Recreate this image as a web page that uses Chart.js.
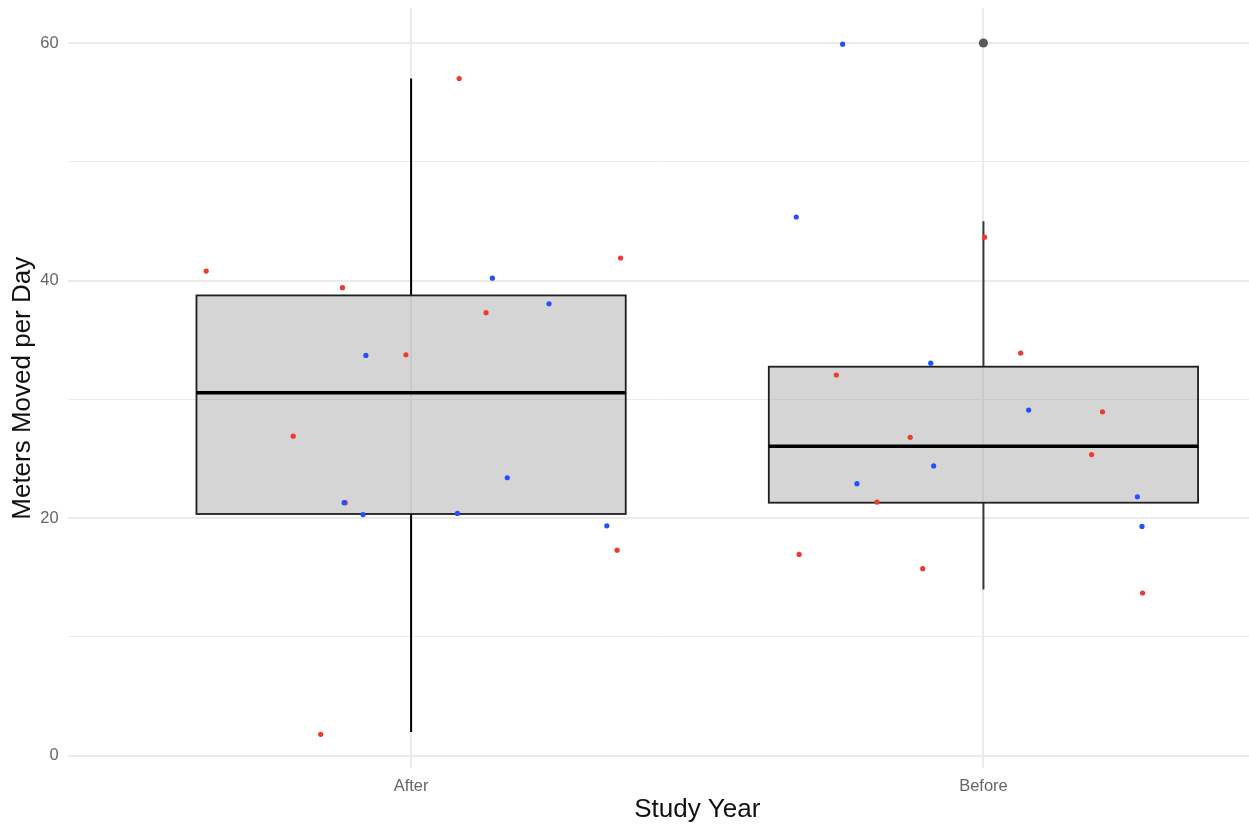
<!DOCTYPE html>
<html>
<head>
<meta charset="utf-8">
<script src="https://cdn.jsdelivr.net/npm/chart.js@4"></script>
<style>
  html, body { margin: 0; padding: 0; background: #ffffff; }
  #wrap { width: 1249px; height: 828px; }
</style>
</head>
<body>
<div id="wrap"><canvas id="c" width="1249" height="828"></canvas></div>
<script>
// ---- data ----
const categories = ['After', 'Before'];
const yTicks = [0, 10, 20, 30, 40, 50, 60];
const xTitle = 'Study Year';
const yTitle = 'Meters Moved per Day';

// box-plot statistics per category
const boxMin    = [2.0, 14.0];
const boxQ1     = [20.35, 21.3];
const boxMedian = [30.55, 26.05];
const boxQ3     = [38.75, 32.75];
const boxMax    = [57.0, 45.0];

// outliers (category index, value)
const outlierGroup = [1];
const outlierValue = [60];

// jittered points: category index, horizontal jitter, value
const redGroup  = [0, 0, 0, 0, 0, 0, 0, 0, 0, 0,
                   1, 1, 1, 1, 1, 1, 1, 1, 1, 1];
const redJitter = [-0.358, -0.120, -0.206, -0.009, 0.084, 0.131, 0.366, 0.360, -0.158, -0.115,
                   0.002, 0.065, -0.257, 0.208, -0.128, 0.189, -0.186, -0.322, -0.106, 0.278];
const redValue  = [40.8, 39.4, 26.9, 33.75, 57.0, 37.3, 41.9, 17.3, 1.8, 21.3,
                   43.65, 33.9, 32.05, 28.95, 26.8, 25.35, 21.35, 16.95, 15.75, 13.7];

const blueGroup  = [0, 0, 0, 0, 0, 0, 0, 0,
                    1, 1, 1, 1, 1, 1, 1, 1];
const blueJitter = [-0.079, -0.117, -0.084, 0.142, 0.241, 0.168, 0.081, 0.342,
                    -0.327, -0.246, -0.092, 0.079, -0.087, -0.221, 0.269, 0.277];
const blueValue  = [33.7, 21.3, 20.3, 40.2, 38.05, 23.4, 20.4, 19.35,
                    45.35, 59.9, 33.05, 29.1, 24.4, 22.9, 21.8, 19.3];

// ---- build ----
const toPoints = (g, j, v) => v.map((val, i) => ({ x: g[i] + 1 + (j ? j[i] : 0), y: val }));

const BOX_WIDTH = 0.75;
const whiskerColors = ['#000000', '#3a3a3a'];
const FONT = "'Liberation Sans', Arial, Helvetica, sans-serif";

const boxPlugin = {
  id: 'boxes',
  beforeDatasetsDraw(chart) {
    const { ctx, scales: { x, y } } = chart;
    ctx.save();
    categories.forEach((c, i) => {
      const cx = x.getPixelForValue(i + 1);
      const xl = x.getPixelForValue(i + 1 - BOX_WIDTH / 2);
      const xr = x.getPixelForValue(i + 1 + BOX_WIDTH / 2);
      const yMin = y.getPixelForValue(boxMin[i]);
      const yQ1 = y.getPixelForValue(boxQ1[i]);
      const yMed = y.getPixelForValue(boxMedian[i]);
      const yQ3 = y.getPixelForValue(boxQ3[i]);
      const yMax = y.getPixelForValue(boxMax[i]);
      // whiskers
      ctx.strokeStyle = whiskerColors[i];
      ctx.lineWidth = 2;
      ctx.beginPath();
      ctx.moveTo(cx, yMax); ctx.lineTo(cx, yQ3);
      ctx.moveTo(cx, yQ1); ctx.lineTo(cx, yMin);
      ctx.stroke();
      // box
      ctx.fillStyle = 'rgba(150,150,150,0.4)';
      ctx.fillRect(xl, yQ3, xr - xl, yQ1 - yQ3);
      ctx.strokeStyle = '#1e1e1e';
      ctx.lineWidth = 1.8;
      ctx.strokeRect(xl, yQ3, xr - xl, yQ1 - yQ3);
      // median
      ctx.strokeStyle = '#000000';
      ctx.lineWidth = 3.6;
      ctx.beginPath();
      ctx.moveTo(xl, yMed); ctx.lineTo(xr, yMed);
      ctx.stroke();
    });
    ctx.restore();
  },
  afterDraw(chart) {
    // x-axis title, centred on the (wider, cropped) panel: midway between the categories
    const { ctx, scales: { x } } = chart;
    ctx.save();
    ctx.font = '26px ' + FONT;
    ctx.fillStyle = '#111111';
    ctx.textAlign = 'center';
    ctx.textBaseline = 'middle';
    ctx.fillText(xTitle, x.getPixelForValue((1 + categories.length) / 2), chart.height - 18.6);
    ctx.restore();
  }
};

new Chart(document.getElementById('c'), {
  type: 'scatter',
  data: {
    datasets: [
      {
        label: 'blue',
        data: toPoints(blueGroup, blueJitter, blueValue),
        backgroundColor: '#2250ff',
        borderWidth: 0,
        pointRadius: 2.6
      },
      {
        label: 'red',
        data: toPoints(redGroup, redJitter, redValue),
        backgroundColor: '#f03a2e',
        borderWidth: 0,
        pointRadius: 2.6
      },
      {
        label: 'outliers',
        data: toPoints(outlierGroup, null, outlierValue),
        backgroundColor: '#5a5a5a',
        borderWidth: 0,
        pointRadius: 4.6
      }
    ]
  },
  options: {
    responsive: false,
    animation: false,
    layout: { autoPadding: false, padding: { top: 8.3, left: 0, right: 0, bottom: 0 } },
    plugins: {
      legend: { display: false },
      tooltip: { enabled: false }
    },
    scales: {
      x: {
        type: 'linear',
        min: 0.4,
        max: 2.464,
        afterBuildTicks(scale) {
          scale.ticks = categories.map((c, i) => ({ value: i + 1 }));
        },
        afterFit(scale) {
          scale.height = 59.8;
          scale.paddingLeft = 0; scale.paddingRight = 0;
        },
        ticks: {
          callback: (v) => categories[Math.round(v) - 1],
          color: '#666666',
          font: { family: FONT, size: 16.5 },
          padding: 8,
          maxRotation: 0,
          autoSkip: false
        },
        grid: { color: '#ebebeb', lineWidth: 2, drawTicks: false },
        border: { display: false },
        title: { display: false }
      },
      y: {
        type: 'linear',
        min: -1.05,
        max: 62.92,
        afterBuildTicks(scale) {
          scale.ticks = yTicks.map(v => ({ value: v }));
        },
        afterFit(scale) {
          scale.width = 67.7;
          scale.paddingTop = 0; scale.paddingBottom = 0;
        },
        ticks: {
          callback: (v) => (v % 20 === 0 ? String(v) : ''),
          color: '#666666',
          font: { family: FONT, size: 16.5 },
          padding: 9,
          autoSkip: false
        },
        grid: {
          color: '#ebebeb',
          lineWidth: (ctx) => (ctx.tick && ctx.tick.value % 20 === 0 ? 2 : 1),
          drawTicks: false
        },
        border: { display: false },
        title: {
          display: true,
          text: yTitle,
          color: '#111111',
          font: { family: FONT, size: 26 },
          padding: { top: 7.5, bottom: 0 }
        }
      }
    }
  },
  plugins: [boxPlugin]
});
</script>
</body>
</html>
